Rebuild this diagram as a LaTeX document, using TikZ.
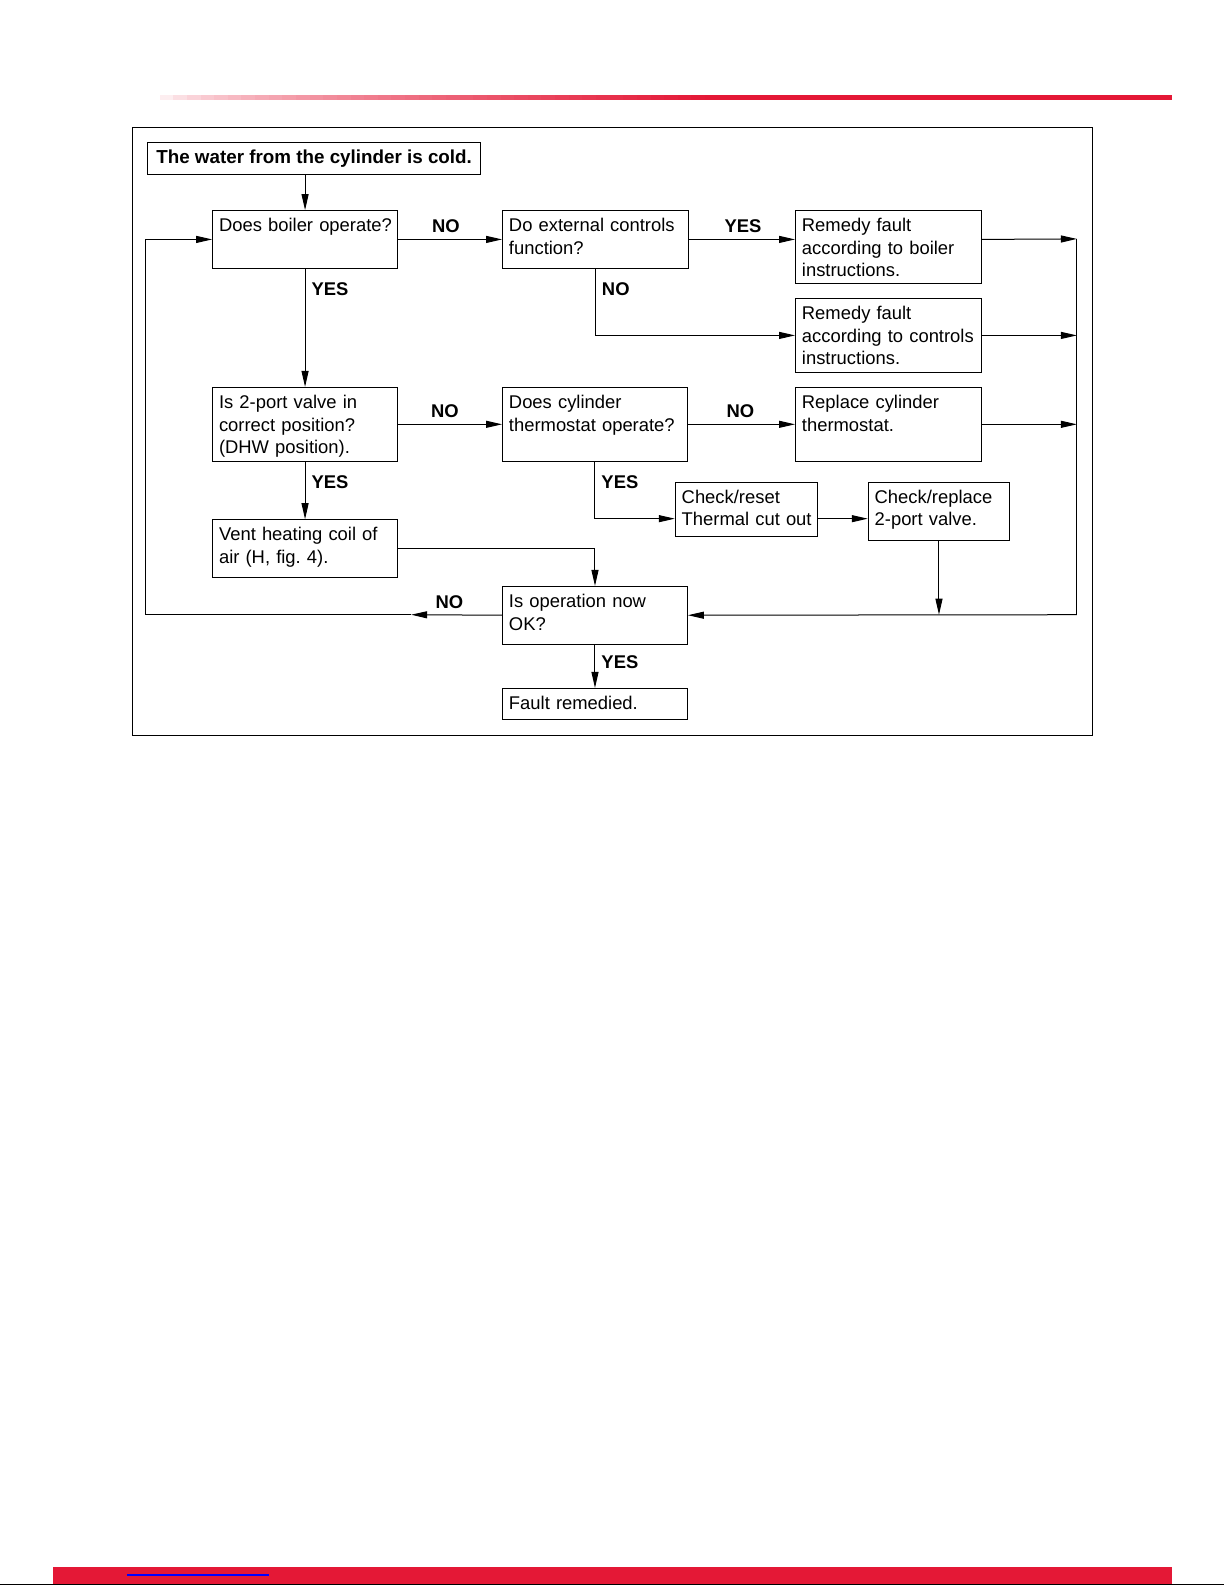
\documentclass[tikz,border=0pt]{standalone}
\usepackage{fontspec}
\setmainfont{Liberation Sans}
\frenchspacing
\usetikzlibrary{positioning,calc,arrows.meta}
\definecolor{brandred}{RGB}{228,24,54}
\tikzset{
  stepbox/.style 2 args={draw, line width=0.5pt, anchor=north west, align=left,
    inner xsep=3.2pt, inner ysep=2pt, text width=#1, text height=8.6pt, text depth=#2,
    font=\fontsize{9.2}{11.2}\selectfont},
  titlebox/.style={draw, line width=0.5pt, anchor=north west, minimum width=166.1pt,
    minimum height=15.7pt, inner sep=0pt, font=\fontsize{9.4}{11}\selectfont\bfseries},
  yesno/.style={font=\fontsize{9.2}{11}\selectfont\bfseries, inner sep=3pt},
  flow/.style={line width=0.5pt, -{Triangle[length=8pt,width=3.5pt]}},
  link/.style={line width=0.5pt}
}
\begin{document}
\begin{tikzpicture}[x=0.505pt, y=-0.505pt]
    \useasboundingbox (0,0) rectangle (1213,1569);

    % Header rule, fading in from the left
    \foreach \i in {0,...,39}
        \fill[brandred!\fpeval{100*((\i+0.5)/40)^0.6}!white] ({158+13.5*\i},94.5) rectangle ({172+13.5*\i},98.5);
    \fill[brandred] (698,94.5) rectangle (1160,98.5);

    % Frame
    \draw[line width=0.5pt] (131,126) rectangle (1081,728);

    % Steps
    \node[titlebox] (cold) at (146,141) {The water from the cylinder is cold.};
    \node[stepbox={86pt}{16.2pt}] (boiler) at (210,208) {\mbox{Does boiler operate?}};
    \node[stepbox={86.5pt}{16.2pt}] (extctl) at (497,208) {\mbox{Do external controls}\\function?};
    \node[stepbox={86.5pt}{23.8pt}] (rmboiler) at (787,208) {Remedy fault\\\mbox{according to boiler}\\instructions.};
    \node[stepbox={86.5pt}{24.3pt}] (rmctl) at (787,295) {Remedy fault\\\mbox{according to controls}\\instructions.};
    \node[stepbox={86pt}{24.3pt}] (valve) at (210,383) {Is 2-port valve in\\\mbox{correct position?}\\(DHW position).};
    \node[stepbox={86pt}{24.3pt}] (thermo) at (497,383) {Does cylinder\\\mbox{thermostat operate?}};
    \node[stepbox={86.5pt}{24.3pt}] (replace) at (787,383) {Replace cylinder\\thermostat.};
    \node[stepbox={64.8pt}{14.7pt}] (reset) at (668,477) {Check/reset\\\mbox{Thermal cut out}};
    \node[stepbox={64.3pt}{16.7pt}] (chkvalve) at (859,477) {Check/replace\\2-port valve.};
    \node[stepbox={86pt}{16.2pt}] (vent) at (210,514) {\mbox{Vent heating coil of}\\air (H, fig. 4).};
    \node[stepbox={86pt}{16.2pt}] (opok) at (497,580) {Is operation now\\OK?};
    \node[stepbox={86pt}{3.1pt}] (fault) at (497,681) {Fault remedied.};

    % Connectors
    \draw[flow] (boiler.north |- cold.south) -- (boiler.north);
    \draw[flow] (boiler.east) -- node[yesno, above, pos=0.46] (no1) {NO} (extctl.west);
    \draw[flow] (extctl.east) -- node[yesno, above, pos=0.51] (yes1) {YES} (extctl.east -| rmboiler.west);
    \draw[flow] (extctl.south) |- node[yesno, right, pos=0.15] (no2) {NO} (rmctl.west);
    \draw[flow] (boiler.south) -- node[yesno, right, pos=0.17] (yes2) {YES} (valve.north);
    \draw[flow] (valve.east) -- node[yesno, above, pos=0.45] (no3) {NO} (thermo.west);
    \draw[flow] (thermo.east) -- node[yesno, above, pos=0.49] (no4) {NO} (replace.west);
    \draw[flow] (thermo.south) |- node[yesno, right, pos=0.18] (yes3) {YES} ([yshift=-4.5pt]reset.west);
    \draw[flow] ([yshift=-4.5pt]reset.east) -- ([yshift=-4.5pt]reset.east -| chkvalve.west);
    \draw[flow] (valve.south) -- node[yesno, right, pos=0.36] (yes4) {YES} (vent.north);
    \draw[flow] (vent.east) -| (opok.north);

    % Return line on the right
    \coordinate (busTop) at (1066,236.5);
    \coordinate (busBot) at (1066,608.5);
    \draw[flow] (rmboiler.east |- extctl.east) -- (busTop);
    \draw[flow] (rmctl.east) -- (rmctl.east -| busTop);
    \draw[flow] (replace.east) -- (replace.east -| busTop);
    \draw[link] (busTop) -- (busBot);
    \draw[flow] (busBot) -- (opok.east);
    \draw[flow] (chkvalve.south) -- (chkvalve.south |- busBot);

    % NO loop back to the start
    \coordinate (noTip) at (407,608.5);
    \coordinate (loopCorner) at (144,608.5);
    \draw[flow] (opok.west) -- node[yesno, above, pos=0.58] (no5) {NO} (noTip);
    \draw[flow] (noTip) -- (loopCorner) |- (boiler.west);
    \draw[flow] (opok.south) -- node[yesno, right, pos=0.41] (yes5) {YES} (fault.north);

    % Footer bar
    \fill[brandred] (52,1551) rectangle (1160,1568);
    \draw[blue, line width=0.8pt] (126,1559) -- (266,1559);
    \draw[line width=1pt] (0,1568.5) -- (1212,1568.5);
\end{tikzpicture}
\end{document}
